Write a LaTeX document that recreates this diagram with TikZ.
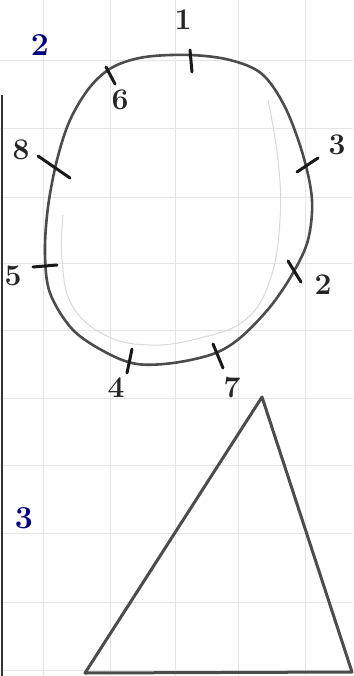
\documentclass[tikz,border=0pt]{standalone}
\usepackage{fontspec}
\usepackage{tikz}
\usetikzlibrary{calc}
\tikzset{every picture/.style={line width=0.75pt}}
\tikzset{
  gridline/.style={gray!20, line width=0.7pt},
  pencil/.style={black!70, line width=2.6pt, line cap=round, line join=round},
  tickmark/.style={black!90, line width=3pt, line cap=round},
  ticklabel/.style={black!85, font=\fontsize{30}{32}\selectfont\bfseries},
  sectlabel/.style={blue!50!black, font=\fontsize{32}{34}\selectfont\bfseries}
}

\begin{document}
\begin{tikzpicture}[x=1pt,y=-1pt]
    \useasboundingbox (0,0) rectangle (353,676);
    \fill[white] (0,0) rectangle (353,676);

    % Kariert-Papier
    \foreach \gx in {43,110,175,238,305}
        \draw[gridline] (\gx,0) -- (\gx,676);
    \foreach \gy in {60,128,197,263,330,398,465,533,602,670}
        \draw[gridline] (0,\gy) -- (353,\gy);
    \draw[black!80, line width=2pt] (2,95) -- (2,676);

    % Aufgabe 2
    \node[sectlabel] (nr2) at (40,45) {2};

    % Vorzeichnung (Bleistift)
    \draw[gray!30, line width=1pt] plot[smooth, tension=0.7] coordinates
        {(268,100) (278,160) (280,220) (270,280) (245,320) (200,338) (150,345) (105,335) (72,305) (62,260) (63,215)};

    % geschlossene Kurve
    \draw[pencil] plot[smooth cycle, tension=0.55] coordinates
        {(190,55) (230,60) (262,74) (285,107) (303,155) (312,200) (308,240) (293,273)
         (270,307) (240,338) (213,354) (173,363) (137,364) (107,353) (73,330)
         (50,293) (45,253) (48,207) (57,160) (70,120) (90,87) (113,67) (145,57)};

    % Markierungen
    \draw[tickmark] (190,50) -- (192,72);
    \draw[tickmark] (106,67) -- (115,84);
    \draw[tickmark] (38,156) -- (70,178);
    \draw[tickmark] (33,267) -- (57,265);
    \draw[tickmark] (132,349) -- (127,373);
    \draw[tickmark] (213,344) -- (223,368);
    \draw[tickmark] (288,261) -- (301,282);
    \draw[tickmark] (297,172) -- (318,158);

    % Nummern
    \node[ticklabel] (l1) at (183,20) {1};
    \node[ticklabel] (l6) at (120,100) {6};
    \node[ticklabel] (l8) at (21,150) {8};
    \node[ticklabel] (l5) at (13,276) {5};
    \node[ticklabel] (l4) at (116,388) {4};
    \node[ticklabel] (l7) at (232,388) {7};
    \node[ticklabel] (l2) at (323,285) {2};
    \node[ticklabel] (l3) at (337,145) {3};

    % Aufgabe 3
    \node[sectlabel] (nr3) at (24,518) {3};
    \draw[pencil, line width=3pt] (262,397) -- (352,672) -- (85,673) -- cycle;
\end{tikzpicture}
\end{document}
